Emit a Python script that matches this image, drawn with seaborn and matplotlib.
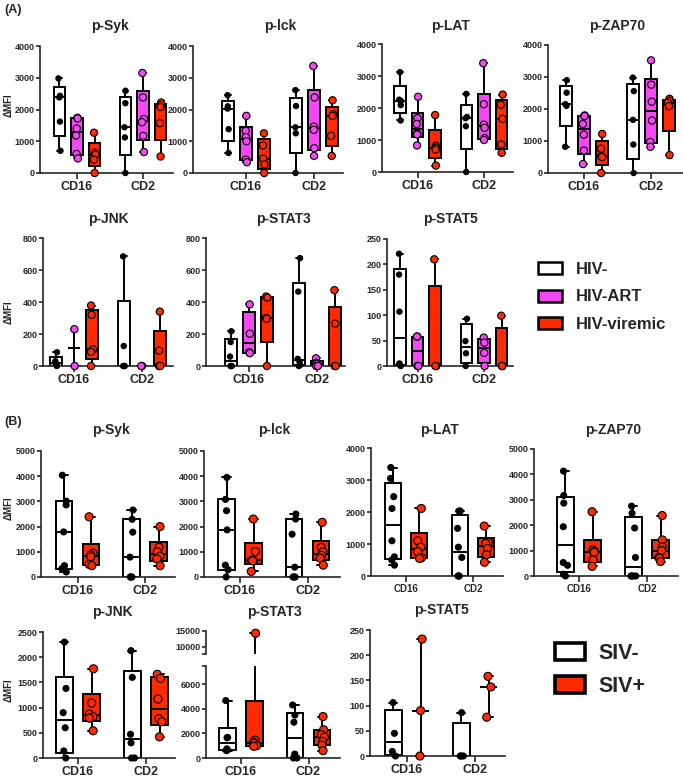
import numpy as np
import pandas as pd
import seaborn as sns
import matplotlib as mpl
import matplotlib.pyplot as plt
from matplotlib.patches import Patch, Rectangle

CELLS = ["CD16", "CD2"]
HIV_GROUPS = ["HIV-", "HIV-ART", "HIV-viremic"]
SIV_GROUPS = ["SIV-", "SIV+"]

# (A) values per group: (CD16, CD2)
a_syk = {"HIV-": ([2980, 2430, 2380, 1620, 700], [2590, 2200, 1440, 1120, 0]),
         "HIV-ART": ([1740, 1720, 1400, 1180, 600, 460], [3150, 2380, 1700, 1600, 1170, 660]),
         "HIV-viremic": ([1270, 640, 580, 420, 0], [2220, 2150, 2080, 1570, 520])}
a_lck = {"HIV-": ([2450, 2100, 2030, 1380, 630], [2610, 2110, 1440, 1250, 0]),
         "HIV-ART": ([1800, 1330, 1130, 1000, 420, 340], [3370, 2380, 1460, 1360, 780, 540]),
         "HIV-viremic": ([1250, 870, 450, 270, 0], [2290, 1850, 1800, 1170, 540])}
a_lat = {"HIV-": ([3120, 2260, 2220, 2090, 1610], [2440, 1720, 1680, 1430, 0]),
         "HIV-ART": ([2350, 1680, 1500, 1200, 1170, 830], [3400, 2120, 1480, 1380, 1060, 1000]),
         "HIV-viremic": ([1780, 820, 760, 700, 200], [2420, 2100, 1660, 860, 600])}
a_zap70 = {"HIV-": ([2900, 2510, 2150, 2100, 820], [2980, 2560, 1660, 890, 0]),
           "HIV-ART": ([1800, 1780, 1530, 1200, 700, 280], [3520, 2760, 2230, 1640, 970, 820]),
           "HIV-viremic": ([1220, 760, 530, 500, 0], [2320, 2260, 2200, 2090, 560])}
a_jnk = {"HIV-": ([86, 30, 20, 5, 0], [685, 125, 0, 0, 0]),
         "HIV-ART": ([230, 0], [0, 0]),
         "HIV-viremic": ([378, 320, 104, 88, 0], [340, 96, 0, 0, 0])}
a_stat3 = {"HIV-": ([217, 150, 59, 0, 0, 0], [674, 465, 45, 25, 5, 0]),
           "HIV-ART": ([385, 202, 86, 80], [48, 20, 12, 0, 0]),
           "HIV-viremic": ([434, 428, 301, 295, 0], [474, 265, 0, 0, 0])}
a_stat5 = {"HIV-": ([221, 180, 107, 5, 3, 0], [93, 49, 25, 0]),
           "HIV-ART": ([58, 58, 0, 0], [56, 46, 26, 0]),
           "HIV-viremic": ([210, 0, 0, 0], [99, 0, 0, 0])}

# (B) values per group: (CD16, CD2)
b_syk = {"SIV-": ([4040, 3010, 2860, 1790, 450, 330, 200], [2660, 2290, 1780, 790, 0, 0, 0]),
         "SIV+": ([2390, 950, 880, 800, 500, 450], [2000, 1180, 1000, 820, 720, 450])}
b_lck = {"SIV-": ([3950, 3080, 2630, 1870, 470, 290, 0], [2500, 2300, 1700, 390, 0, 0, 0]),
         "SIV+": ([2300, 1010, 660, 650, 640, 220], [2170, 1170, 1000, 860, 750, 470])}
b_lat = {"SIV-": ([3390, 3050, 2480, 2110, 1100, 600, 500, 340], [2030, 2030, 1490, 900, 580, 0, 0, 0]),
         "SIV+": ([2110, 1100, 900, 760, 570, 550], [1560, 1050, 1020, 860, 660, 430])}
b_zap70 = {"SIV-": ([4130, 3170, 2870, 1940, 530, 420, 70, 0], [2750, 2470, 1890, 730, 0, 0, 0, 0]),
           "SIV+": ([2530, 1030, 980, 930, 630, 380], [2380, 1420, 1150, 1000, 730, 700, 570])}
b_jnk = {"SIV-": ([2300, 1380, 900, 600, 140, 0], [2130, 1600, 470, 300, 0, 0]),
         "SIV+": ([1770, 1090, 870, 820, 790, 540], [1660, 1580, 1170, 780, 720, 420])}
b_stat3 = {"SIV-": ([4680, 1680, 1650, 750, 650, 600], [4320, 3500, 2920, 320, 0, 0]),
           "SIV+": ([14300, 1460, 1300, 1200, 1000, 950], [3380, 2300, 1900, 1700, 1350, 1050, 600])}
b_stat5 = {"SIV-": ([106, 45, 9, 0], [86, 0, 0, 0]),
           "SIV+": ([232, 90, 0], [158, 137, 77])}

MAGENTA = "#F548F5"
RED = "#FF2A00"
HIV_BOX = {"HIV-": "white", "HIV-ART": MAGENTA, "HIV-viremic": RED}
HIV_DOT = {"HIV-": "black", "HIV-ART": MAGENTA, "HIV-viremic": RED}
HIV_SIZE = {"HIV-": 3.8, "HIV-ART": 5.2, "HIV-viremic": 5.2}
SIV_BOX = {"SIV-": "white", "SIV+": RED}
SIV_DOT = {"SIV-": "black", "SIV+": RED}
SIV_SIZE = {"SIV-": 4.3, "SIV+": 5.8}

# Prism computes quartiles with the (n+1) rule and draws no box for n <= 3
_boxplot_stats = mpl.cbook.boxplot_stats


def prism_stats(X, *args, **kwargs):
    stats = _boxplot_stats(X, *args, **kwargs)
    groups = [X] if np.ndim(X[0]) == 0 else X
    for s, x in zip(stats, groups):
        x = np.asarray(x, float)
        if len(x) <= 3:
            s["q1"] = s["q3"] = s["med"]
        else:
            s["q1"], s["q3"] = np.percentile(x, [25, 75], method="weibull")
    return stats


mpl.cbook.boxplot_stats = prism_stats

sns.set_style("ticks")
plt.rcParams["font.family"] = ["Liberation Sans", "DejaVu Sans"]
plt.rcParams["font.weight"] = "bold"
np.random.seed(7)  # jitter only

W, H = 683, 779
fig = plt.figure(figsize=(W / 100, H / 100), dpi=100)


def px_axes(L, R, top, bottom):
    return fig.add_axes([L / W, 1 - bottom / H, (R - L) / W, (bottom - top) / H])


def long_df(panel):
    rows = [(g, c, v) for g, vals in panel.items() for c, vs in zip(CELLS, vals) for v in vs]
    return pd.DataFrame(rows, columns=["group", "cell", "mfi"])


def draw(ax, panel, groups, box_pal, dot_pal, sizes, gap, jitter, top=1.03):
    df = long_df(panel)
    sns.boxplot(data=df, x="cell", y="mfi", hue="group", order=CELLS, hue_order=groups,
                palette=box_pal, saturation=1, width=0.8, gap=gap, whis=(0, 100),
                showfliers=False, linecolor="black", linewidth=1.4, legend=False, ax=ax)
    for g in groups:
        sns.stripplot(data=df[df.group == g], x="cell", y="mfi", hue="group", order=CELLS,
                      hue_order=groups, palette=dot_pal, dodge=True, jitter=jitter,
                      size=sizes[g], edgecolor="black", linewidth=0.8, legend=False,
                      zorder=4, ax=ax)
    for coll in ax.collections:
        coll.set_clip_path(Rectangle((-0.2, -0.1), 1.4, 0.1 + top, transform=ax.transAxes))
    ax.set_xlabel("")
    ax.set_ylabel("")


def style(ax, L, R, c0, c1, ticks, labels=None, xfs=9, yfs=6.5):
    unit = c1 - c0
    ax.set_xlim((L - c0) / unit, (R - c0) / unit)
    ax.set_ylim(ticks[0], ticks[-1])
    ax.set_yticks(ticks)
    if labels is not None:
        ax.set_yticklabels(labels)
    sns.despine(ax=ax)
    for s in ("left", "bottom"):
        ax.spines[s].set_linewidth(1.2)
    ax.tick_params(axis="y", labelsize=yfs, width=1.2, length=3, pad=1)
    ax.tick_params(axis="x", labelsize=xfs, width=1.2, length=4, pad=2)


def title(text, c0, c1, y, size=10):
    fig.text((c0 + c1) / 2 / W, 1 - y / H, text, ha="center", va="center",
             fontsize=size, fontweight="bold")


t4k = [0, 1000, 2000, 3000, 4000]
t5k = [0, 1000, 2000, 3000, 4000, 5000]
t800 = [0, 200, 400, 600, 800]
t250 = [0, 50, 100, 150, 200, 250]
t2500 = [0, 500, 1000, 1500, 2000, 2500]

# ---- (A) ----
a_row1 = [("p-Syk", a_syk, 40, 173, 77, 143, 46, 173),
          ("p-lck", a_lck, 193, 343, 246, 314, 46, 173),
          ("p-LAT", a_lat, 382, 513, 417.5, 484, 44, 172),
          ("p-ZAP70", a_zap70, 548, 683, 584, 651, 45, 173)]
for name, panel, L, R, c0, c1, yt, y0 in a_row1:
    ax = px_axes(L, R, yt, y0)
    draw(ax, panel, HIV_GROUPS, HIV_BOX, HIV_DOT, HIV_SIZE, 0.35, 0.05)
    style(ax, L, R, c0, c1, t4k)
    title(name, c0, c1, 26)

a_row2 = [("p-JNK", a_jnk, 43, 173, 74, 142, 238, 366, t800),
          ("p-STAT3", a_stat3, 206, 345, 249, 317, 238, 366, t800),
          ("p-STAT5", a_stat5, 387, 513, 417.5, 484, 239, 366, t250)]
for name, panel, L, R, c0, c1, yt, y0, ticks in a_row2:
    ax = px_axes(L, R, yt, y0)
    draw(ax, panel, HIV_GROUPS, HIV_BOX, HIV_DOT, HIV_SIZE, 0.35, 0.05)
    style(ax, L, R, c0, c1, ticks)
    title(name, c0, c1, 219)

# ---- (B) ----
b_row3 = [("p-Syk", b_syk, 41, 175, 77.5, 145, 451, 577, t5k, 9),
          ("p-lck", b_lck, 204, 340, 240, 307.5, 451, 577, t5k, 9),
          ("p-LAT", b_lat, 371, 503, 406, 473, 448, 576, t4k, 7),
          ("p-ZAP70", b_zap70, 534, 678, 579, 647, 449, 576, t5k, 7)]
for name, panel, L, R, c0, c1, yt, y0, ticks, xfs in b_row3:
    ax = px_axes(L, R, yt, y0)
    draw(ax, panel, SIV_GROUPS, SIV_BOX, SIV_DOT, SIV_SIZE, 0.4, 0.07)
    style(ax, L, R, c0, c1, ticks, xfs=xfs)
    title(name, c0, c1, 430)

ax = px_axes(43, 175, 632, 758)
draw(ax, b_jnk, SIV_GROUPS, SIV_BOX, SIV_DOT, SIV_SIZE, 0.4, 0.07)
style(ax, 43, 175, 78, 146, t2500)
title("p-JNK", 78, 146, 612)

# broken y axis for p-STAT3
ax_hi = px_axes(206, 340, 631, 654)
ax_lo = px_axes(206, 340, 666, 758)
draw(ax_hi, b_stat3, SIV_GROUPS, SIV_BOX, SIV_DOT, SIV_SIZE, 0.4, 0.07, top=1.3)
draw(ax_lo, b_stat3, SIV_GROUPS, SIV_BOX, SIV_DOT, SIV_SIZE, 0.4, 0.07, top=1.0)
style(ax_hi, 206, 340, 241, 308.5, [7800, 10000, 15000], ["", "10000", "15000"])
ax_hi.spines["bottom"].set_visible(False)
ax_hi.tick_params(axis="x", bottom=False, labelbottom=False)
style(ax_lo, 206, 340, 241, 308.5, [0, 2000, 4000, 6000, 7500],
      ["0", "2000", "4000", "6000", ""])
title("p-STAT3", 241, 308.5, 612)

ax = px_axes(370, 505, 630, 756)
draw(ax, b_stat5, SIV_GROUPS, SIV_BOX, SIV_DOT, SIV_SIZE, 0.4, 0.07)
style(ax, 370, 505, 407, 475, t250)
title("p-STAT5", 407, 475, 610)

# y labels and panel letters
for y in (105, 312, 508, 690):
    fig.text(9 / W, 1 - y / H, "ΔMFI", rotation=90, ha="center", va="center", fontsize=7)
fig.text(4 / W, 1 - 10 / H, "(A)", ha="left", va="center", fontsize=9)
fig.text(4 / W, 1 - 422 / H, "(B)", ha="left", va="center", fontsize=9)

# legends
hiv_handles = [Patch(facecolor=HIV_BOX[g], edgecolor="black", linewidth=1.8) for g in HIV_GROUPS]
fig.legend(hiv_handles, HIV_GROUPS, loc="center left", bbox_to_anchor=(538 / W, 1 - 297 / H),
           frameon=False, fontsize=12, handlelength=1.45, handleheight=0.75,
           handletextpad=0.8, labelspacing=0.75, borderpad=0, borderaxespad=0)
siv_handles = [Patch(facecolor=SIV_BOX[g], edgecolor="black", linewidth=2.6) for g in SIV_GROUPS]
fig.legend(siv_handles, SIV_GROUPS, loc="center left", bbox_to_anchor=(555 / W, 1 - 670 / H),
           frameon=False, fontsize=15.5, handlelength=1.4, handleheight=0.85,
           handletextpad=0.6, labelspacing=0.55, borderpad=0, borderaxespad=0)

fig.savefig("out.png", dpi=100)
